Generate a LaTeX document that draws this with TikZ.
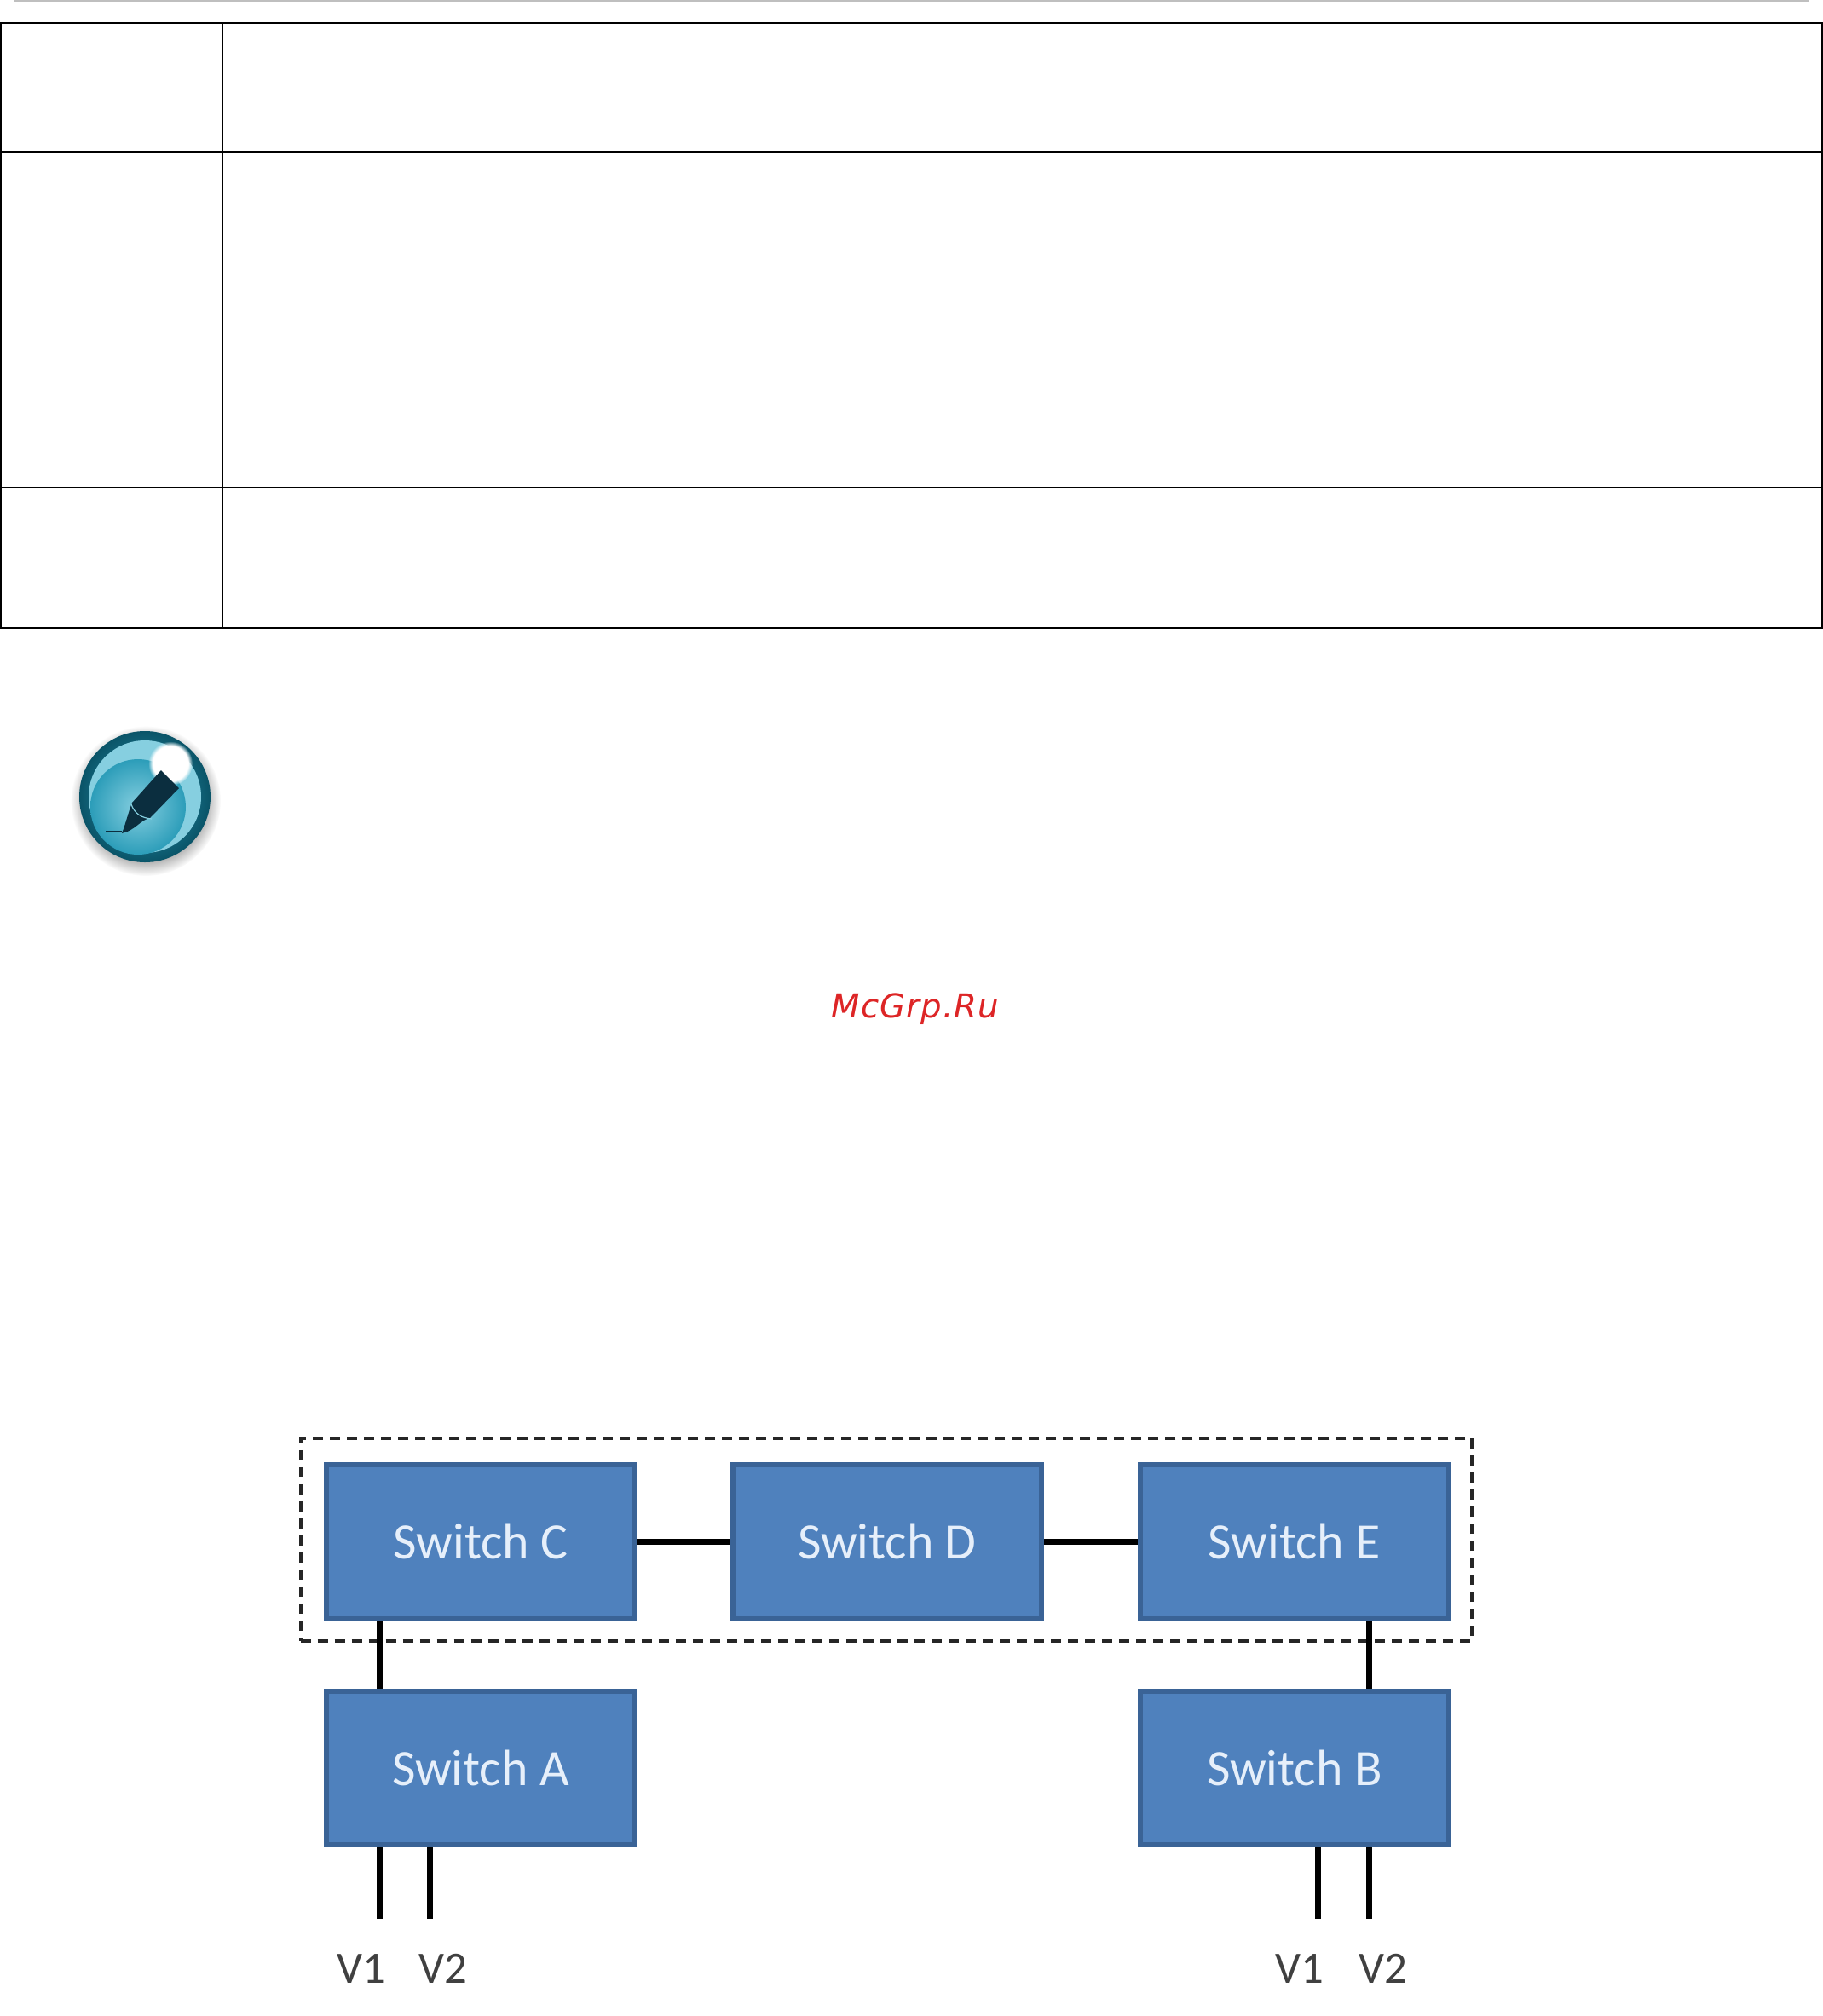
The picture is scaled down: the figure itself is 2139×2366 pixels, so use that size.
\documentclass[tikz,border=0pt]{standalone}
\usepackage{fontspec}
\setmainfont{Carlito}
\newfontfamily\wmfont[LetterSpace=3]{DejaVu Sans}
\usetikzlibrary{fadings}
\definecolor{swfill}{HTML}{4F81BD}
\definecolor{swedge}{HTML}{3A6396}
\definecolor{swtext}{HTML}{E6EFFA}
\definecolor{wmred}{HTML}{DD2526}
\definecolor{tealrim}{HTML}{0A5468}
\definecolor{tealmid}{HTML}{2C9DB9}
\definecolor{teallight}{HTML}{86CFE0}
\definecolor{pendark}{HTML}{0B2E3F}
\tikzset{
    switchbox/.style={draw=swedge,fill=swfill,line width=0.06cm,minimum width=3.62cm,
        minimum height=1.80cm,text=swtext,font=\fontsize{17}{20}\selectfont},
    link/.style={line width=0.07cm,black},
    vlabel/.style={text=black!75,font=\fontsize{15}{18}\selectfont},
    cell/.style={line width=0.025cm,black},
}
\begin{document}
\begin{tikzpicture}[x=0.01cm,y=-0.01cm]
    \useasboundingbox (0,0) rectangle (2139,2366);
    % page rule and table
    \draw[line width=0.025cm,black!25] (17,1) -- (2122,1);
    \draw[cell] (1,27) rectangle (2138,737);
    \draw[cell] (1,178) -- (2138,178);
    \draw[cell] (1,572) -- (2138,572);
    \draw[cell] (261,27) -- (261,737);
    % note icon
    \fill[black!30,path fading=circle with fuzzy edge 20 percent] (171,940) circle (88);
    \shade[inner color=tealmid,outer color=tealrim] (170,935) circle (77);
    \fill[teallight] (170,935) circle (66);
    \shade[inner color=teallight,outer color=tealmid] (162,947) circle (56);
    \fill[white,path fading=circle with fuzzy edge 20 percent] (200,896) circle (26);
    \fill[pendark] (189,904) -- (210,925) -- (176,960) .. controls (165,962) and (158,975) .. (143,978)
        .. controls (148,965) and (150,955) .. (155,942) -- cycle;
    \draw[pendark,line width=0.02cm] (124,976) -- (143,976);
    \draw[teallight,line width=0.012cm] (154,944) .. controls (158,955) and (166,960) .. (178,961);
    % watermark
    \node[text=wmred,font=\wmfont\itshape\fontsize{11}{13}\selectfont] (mark) at (1074,1184) {McGrp.Ru};
    % switches
    \node[draw=black!85,dashed,line width=0.04cm,dash pattern=on 0.12cm off 0.08cm,
        minimum width=13.74cm,minimum height=2.38cm] (group) at (1040,1807) {};
    \node[switchbox] (swC) at (564,1809) {Switch C};
    \node[switchbox] (swD) at (1041,1809) {Switch D};
    \node[switchbox] (swE) at (1519,1809) {Switch E};
    \node[switchbox] (swA) at (564,2075) {Switch A};
    \node[switchbox] (swB) at (1519,2075) {Switch B};
    \coordinate (endA1) at (445,2252);
    \coordinate (endA2) at (504,2252);
    \coordinate (endB1) at (1546,2252);
    \coordinate (endB2) at (1606,2252);
    \draw[link] (swC) -- (swD);
    \draw[link] (swD) -- (swE);
    \draw[link] (swC.south -| endA1) -- (swA.north -| endA1);
    \draw[link] (swE.south -| endB2) -- (swB.north -| endB2);
    \draw[link] (swA.south -| endA1) -- (endA1);
    \draw[link] (swA.south -| endA2) -- (endA2);
    \draw[link] (swB.south -| endB1) -- (endB1);
    \draw[link] (swB.south -| endB2) -- (endB2);
    \node[vlabel] (labA1) at (424,2310) {V1};
    \node[vlabel] (labA2) at (520,2310) {V2};
    \node[vlabel] (labB1) at (1525,2310) {V1};
    \node[vlabel] (labB2) at (1623,2310) {V2};
\end{tikzpicture}
\end{document}
